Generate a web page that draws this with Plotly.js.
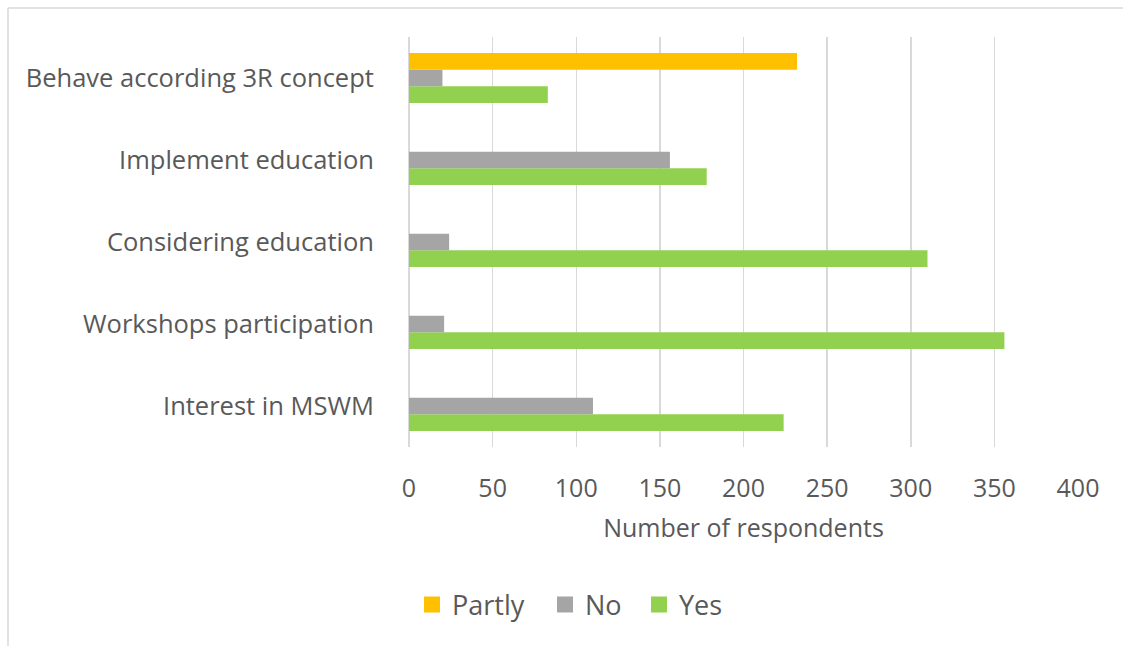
<!DOCTYPE html>
<html>
<head>
<meta charset="utf-8">
<script src="https://cdn.plot.ly/plotly-3.0.1.min.js"></script>
<style>
  html, body { margin: 0; padding: 0; background: #ffffff; }
  #chart { width: 1123px; height: 646px; }
</style>
</head>
<body>
<div id="chart"></div>
<script>
// Categories, bottom to top as drawn
const categories = [
  "Interest in MSWM",
  "Workshops participation",
  "Considering education",
  "Implement education",
  "Behave according 3R concept"
];
const yesValues    = [224, 356, 310, 178, 83];
const noValues     = [110, 21, 24, 156, 20];
const partlyValues = [null, null, null, null, 232];
const xTicks = [0, 50, 100, 150, 200, 250, 300, 350, 400];
const legendNames = ["Partly", "No", "Yes"];
const seriesColors = { Yes: "#92D050", No: "#A5A5A5", Partly: "#FFC000" };

const textColor = "#595959";
const fontFamily = "'Open Sans', 'Liberation Sans', sans-serif";

const traces = [
  { type: "bar", orientation: "h", name: "Yes", y: categories, x: yesValues,
    marker: { color: seriesColors.Yes }, showlegend: false },
  { type: "bar", orientation: "h", name: "No", y: categories, x: noValues,
    marker: { color: seriesColors.No }, showlegend: false },
  { type: "bar", orientation: "h", name: "Partly", y: categories, x: partlyValues,
    marker: { color: seriesColors.Partly }, showlegend: false }
];

const L = 409, R = 1078, T = 37, B = 447, W = 1123, H = 646;
const px2x = p => (p - L) / (R - L);
const px2y = p => (B - p) / (B - T);

// legend entries with square keys, one legend box per entry (Excel spacing)
const legendIds = ["legend", "legend2", "legend3"];
const legendLeft = [412, 545, 639];
legendNames.forEach((n, i) => {
  traces.push({
    type: "scatter", mode: "markers", name: n,
    x: [null], y: [null],
    marker: { symbol: "square", size: 18, color: seriesColors[n] },
    showlegend: true,
    legend: legendIds[i]
  });
});

const layout = {
  width: W, height: H,
  margin: { l: L, r: W - R, t: T, b: H - B },
  paper_bgcolor: "#ffffff",
  plot_bgcolor: "#ffffff",
  font: { family: fontFamily, color: textColor, size: 22 },
  barmode: "group",
  bargap: 0.39,
  bargroupgap: 0,
  showlegend: true,
  xaxis: {
    range: [0, 400],
    tickvals: xTicks,
    ticktext: xTicks.map(String),
    showgrid: true,
    gridcolor: "#D9D9D9",
    gridwidth: 1.5,
    zeroline: true,
    zerolinecolor: "#D9D9D9",
    zerolinewidth: 1.5,
    showline: false,
    ticks: "outside",
    ticklen: 19,
    tickcolor: "rgba(0,0,0,0)",
    tickfont: { size: 25, color: textColor },
    title: { text: "Number of respondents", font: { size: 25, color: textColor }, standoff: 16 },
    fixedrange: true
  },
  yaxis: {
    type: "category",
    categoryorder: "array",
    categoryarray: categories,
    showgrid: false,
    zeroline: false,
    showline: false,
    ticks: "outside",
    ticklen: 29,
    tickcolor: "rgba(0,0,0,0)",
    tickfont: { size: 25.5, color: textColor },
    fixedrange: true
  },
  shapes: [
    { type: "line", xref: "paper", yref: "paper",
      x0: px2x(8), x1: px2x(8), y0: px2y(646), y1: px2y(8),
      line: { color: "#D9D9D9", width: 1.5 }, layer: "below" },
    { type: "line", xref: "paper", yref: "paper",
      x0: px2x(8), x1: px2x(1123), y0: px2y(8), y1: px2y(8),
      line: { color: "#D9D9D9", width: 1.5 }, layer: "below" }
  ]
};
legendIds.forEach((id, i) => {
  layout[id] = {
    orientation: "h",
    x: px2x(legendLeft[i]), xanchor: "left",
    y: px2y(605), yanchor: "middle",
    font: { size: 27, color: textColor, family: fontFamily },
    itemwidth: 30,
    itemsizing: "trace",
    bgcolor: "rgba(0,0,0,0)"
  };
});

Plotly.newPlot("chart", traces, layout, { staticPlot: true, displayModeBar: false });
</script>
</body>
</html>
